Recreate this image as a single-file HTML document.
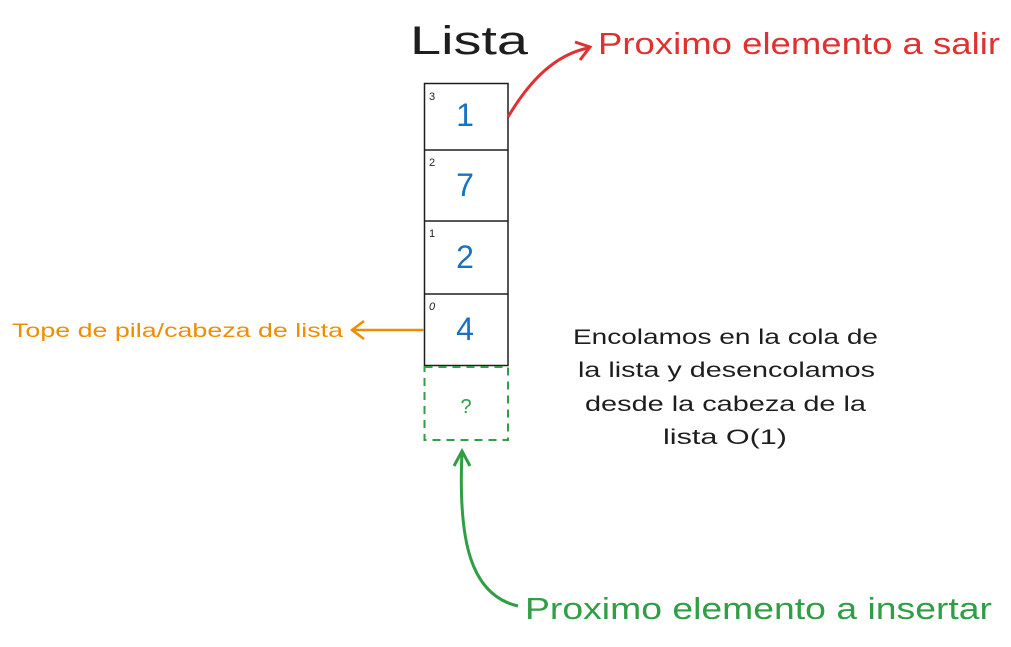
<!DOCTYPE html>
<html><head><meta charset="utf-8"><style>
body{margin:0;background:#fff;width:1011px;height:642px;overflow:hidden}
text{font-family:"Liberation Sans",sans-serif}
</style></head><body>
<svg width="1011" height="642" viewBox="0 0 1011 642" xmlns="http://www.w3.org/2000/svg">
<g fill="none" stroke="#1e1e1e" stroke-width="1.5">
<rect x="424.5" y="83.5" width="83.5" height="282"/>
<line x1="424" y1="150" x2="508" y2="150"/>
<line x1="424" y1="221" x2="508" y2="221"/>
<line x1="424" y1="294" x2="508" y2="294"/>
</g>
<rect x="424.5" y="367" width="83.5" height="73" fill="none" stroke="#2f9e44" stroke-width="2" stroke-dasharray="8 6"/>
<g font-size="11" fill="#1e1e1e">
<text x="429" y="100">3</text><text x="429" y="166">2</text><text x="429" y="237">1</text><text x="429" y="310" font-style="italic">0</text>
</g>
<g font-size="32" fill="#1971c2" text-anchor="middle">
<text x="465" y="126">1</text><text x="465" y="196">7</text><text x="465" y="268">2</text><text x="465" y="340">4</text>
</g>
<text x="466" y="413" font-size="20" fill="#2f9e44" text-anchor="middle">?</text>
<text x="410" y="54" font-size="40" fill="#1e1e1e" textLength="118" lengthAdjust="spacingAndGlyphs">Lista</text>
<text x="598" y="54" font-size="31" fill="#e03131" textLength="402" lengthAdjust="spacingAndGlyphs">Proximo elemento a salir</text>
<path d="M508 117 C530 80,555 55,588 48" fill="none" stroke="#e03131" stroke-width="3"/>
<path d="M575 42 L590 47 L580 60" fill="none" stroke="#e03131" stroke-width="3"/>
<text x="12" y="337" font-size="19.5" fill="#f08c00" textLength="331" lengthAdjust="spacingAndGlyphs">Tope de pila/cabeza de lista</text>
<path d="M424 330 L352 330 M364 321 L352 330 L364 339" fill="none" stroke="#f08c00" stroke-width="2.5"/>
<g font-size="21" fill="#1e1e1e">
<text x="573" y="344" textLength="305" lengthAdjust="spacingAndGlyphs">Encolamos en la cola de</text>
<text x="578" y="377" textLength="297" lengthAdjust="spacingAndGlyphs">la lista y desencolamos</text>
<text x="585" y="411" textLength="281" lengthAdjust="spacingAndGlyphs">desde la cabeza de la</text>
<text x="663" y="444" textLength="124" lengthAdjust="spacingAndGlyphs">lista O(1)</text>
</g>
<text x="525" y="619" font-size="31" fill="#2f9e44" textLength="467" lengthAdjust="spacingAndGlyphs">Proximo elemento a insertar</text>
<path d="M462 452 C458 540,470 595,518 606" fill="none" stroke="#2f9e44" stroke-width="3"/>
<path d="M454 466 L462 451 L470 466" fill="none" stroke="#2f9e44" stroke-width="3"/>
</svg>
</body></html>
